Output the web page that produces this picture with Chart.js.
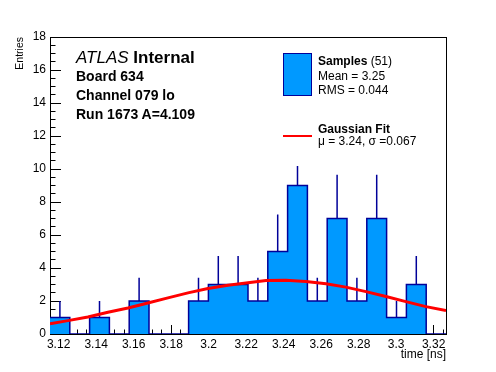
<!DOCTYPE html>
<html lang="en">
<head>
  <meta charset="UTF-8" />
  <title>Board 634 - Channel 079 lo</title>
  <script src="https://cdn.jsdelivr.net/npm/chart.js"></script>
  <style>
    body { margin: 0; background: #fff; }
    #wrap { position: relative; width: 496px; height: 372px; font-family: "Liberation Sans", Arial, sans-serif; color: #000; }
    #wrap div.t { position: absolute; line-height: 1; white-space: nowrap; }
    .b { font-weight: bold; }
  </style>
</head>
<body>
  <div id="wrap">
    <canvas id="hist" width="496" height="372"></canvas>

    <!-- axis titles -->
    <div class="t" style="left:14px; top:37px; font-size:10.5px; transform-origin:0 0; transform:rotate(-90deg) translate(-100%,0); ">Entries</div>
    <div class="t" style="right:50px; top:348px; font-size:12px;">time [ns]</div>

    <!-- labels -->
    <div class="t" style="left:76px; top:49px; font-size:17px;"><i>ATLAS</i> <span class="b">Internal</span></div>
    <div class="t b" style="left:76px; top:69px; font-size:14px;">Board 634</div>
    <div class="t b" style="left:76px; top:88px; font-size:14px;">Channel 079 lo</div>
    <div class="t b" style="left:76px; top:107px; font-size:14px;">Run 1673 A=4.109</div>

    <!-- legend -->
    <div style="position:absolute; left:283px; top:53px; width:27px; height:41px; background:#0099ff; border:1.5px solid #000099;"></div>
    <div class="t" style="left:318px; top:55px; font-size:12px;"><span class="b">Samples</span> (51)</div>
    <div class="t" style="left:318px; top:70px; font-size:12px;">Mean = 3.25</div>
    <div class="t" style="left:318px; top:84px; font-size:12px;">RMS = 0.044</div>
    <div style="position:absolute; left:283px; top:135px; width:29px; height:2px; background:#ff0000;"></div>
    <div class="t b" style="left:318px; top:123px; font-size:12px;">Gaussian Fit</div>
    <div class="t" style="left:318px; top:135px; font-size:12px;">&mu; = 3.24, &sigma; =0.067</div>
  </div>

  <script>
    // histogram binning and contents
    const nBins = 20;
    const xMin = 3.1154;
    const xMax = 3.3266;
    const counts = [1, 0, 1, 0, 2, 0, 0, 2, 3, 3, 2, 5, 9, 2, 7, 2, 7, 1, 3, 0];
    const errors = [1, 0, 1, 0, 1.41, 0, 0, 1.41, 1.73, 1.73, 1.41, 2.24, 1.18, 1.41, 2.65, 1.41, 2.65, 1, 1.73, 0];

    // gaussian fit curve
    const fitX = [3.1154, 3.125, 3.1356, 3.1463, 3.157, 3.1676, 3.1783, 3.189, 3.1996, 3.2103, 3.221,
                  3.2306, 3.2412, 3.2519, 3.2626, 3.2732, 3.2839, 3.2946, 3.3052, 3.3159, 3.3266];
    const fitY = [0.62, 0.81, 1.03, 1.32, 1.58, 1.88, 2.19, 2.49, 2.76, 2.96, 3.10,
                  3.24, 3.26, 3.18, 3.04, 2.84, 2.57, 2.27, 1.96, 1.66, 1.42];

    // axis ticks
    const xTicks = [3.12, 3.14, 3.16, 3.18, 3.2, 3.22, 3.24, 3.26, 3.28, 3.3, 3.32];
    const xTickLabels = ['3.12', '3.14', '3.16', '3.18', '3.2', '3.22', '3.24', '3.26', '3.28', '3.3', '3.32'];
    const yTicks = [0, 2, 4, 6, 8, 10, 12, 14, 16, 18];
    const yMax = 18;

    const binW = (xMax - xMin) / nBins;

    // step outline of the histogram
    let histPts = counts.map((c, i) => ({ x: xMin + i * binW, y: c }));
    histPts.push({ x: xMax, y: counts[nBins - 1] });

    // error bars (upper half, the rest is hidden by the fill)
    let errPts = [];
    counts.forEach((c, i) => {
      if (c <= 0) return;
      let xc = xMin + (i + 0.5) * binW;
      errPts.push({ x: xc, y: c }, { x: xc, y: c + errors[i] }, { x: xc, y: null });
    });

    let fitPts = fitX.map((x, i) => ({ x: x, y: fitY[i] }));

    const font = { family: '"Liberation Sans", Arial, sans-serif', size: 12 };
    const black = '#000';

    let ctx = document.getElementById('hist').getContext('2d');
    let grafico = new Chart(ctx, {
      type: 'line',
      data: {
        datasets: [
          {
            data: histPts,
            order: 3,
            stepped: true,
            fill: 'origin',
            backgroundColor: '#0099ff',
            borderColor: '#000099',
            borderWidth: 1.5,
            pointRadius: 0,
            xAxisID: 'x',
            yAxisID: 'y'
          },
          {
            data: errPts,
            order: 2,
            borderColor: '#000099',
            borderWidth: 1.5,
            pointRadius: 0,
            fill: false,
            spanGaps: false,
            xAxisID: 'x',
            yAxisID: 'y'
          },
          {
            data: fitPts,
            order: 1,
            borderColor: '#ff0000',
            borderWidth: 3,
            pointRadius: 0,
            fill: false,
            tension: 0,
            xAxisID: 'x',
            yAxisID: 'y'
          }
        ]
      },
      options: {
        responsive: false,
        animation: false,
        events: [],
        layout: { padding: { top: 37, right: 50, left: 0, bottom: 0 } },
        plugins: { legend: { display: false }, tooltip: { enabled: false } },
        scales: {
          x: {
            type: 'linear', position: 'bottom', weight: 1,
            min: xMin, max: xMax,
            afterBuildTicks: s => { s.ticks = xTicks.map(v => ({ value: v })); },
            afterFit: s => { s.height = 38; },
            ticks: { autoSkip: false, maxRotation: 0, padding: 12, color: black, font: font,
                     callback: (v, i) => xTickLabels[i] },
            grid: { drawOnChartArea: false, tickLength: -9, color: black },
            border: { display: true, color: black, width: 1 }
          },
          xMinor: {
            type: 'linear', position: 'bottom', weight: 0,
            min: xMin, max: xMax,
            afterFit: s => { s.height = 0; },
            ticks: { display: false, stepSize: 0.005, maxTicksLimit: 1000, includeBounds: false },
            grid: { drawOnChartArea: false, tickLength: -4.5, color: black },
            border: { display: false }
          },
          xTop: {
            type: 'linear', position: 'top',
            min: xMin, max: xMax,
            afterFit: s => { s.height = 0; },
            ticks: { display: false },
            grid: { display: false },
            border: { display: true, color: black, width: 1 }
          },
          y: {
            type: 'linear', position: 'left', weight: 1,
            min: 0, max: yMax,
            afterBuildTicks: s => { s.ticks = yTicks.map(v => ({ value: v })); },
            afterFit: s => { s.width = 50; },
            ticks: { autoSkip: false, padding: 15, color: black, font: font },
            grid: { drawOnChartArea: false, tickLength: -11, color: black },
            border: { display: true, color: black, width: 1 }
          },
          yMinor: {
            type: 'linear', position: 'left', weight: 0,
            min: 0, max: yMax,
            afterFit: s => { s.width = 0; },
            ticks: { display: false, stepSize: 0.5, maxTicksLimit: 1000, includeBounds: false },
            grid: { drawOnChartArea: false, tickLength: -5.5, color: black },
            border: { display: false }
          },
          yRight: {
            type: 'linear', position: 'right',
            min: 0, max: yMax,
            afterFit: s => { s.width = 0; },
            ticks: { display: false },
            grid: { display: false },
            border: { display: true, color: black, width: 1 }
          }
        }
      }
    });
  </script>
</body>
</html>
